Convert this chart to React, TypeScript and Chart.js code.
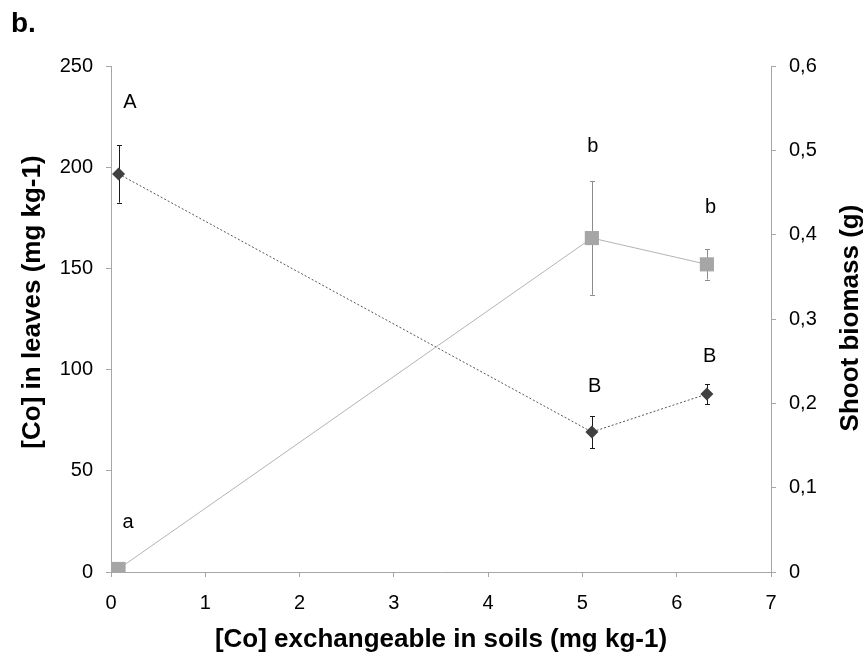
import React, { useEffect, useRef } from "react";
import { Chart, registerables } from "chart.js";

Chart.register(...registerables);

// Exchangeable Co in soil (mg kg-1) for the three treatments
const soilCo = [0.08, 5.1, 6.32];

// [Co] in leaves (mg kg-1), left axis
const leafCo = [1.5, 165, 152];
const leafCoErr = [0, 28, 7.5];
const leafLetters = ["a", "b", "b"];
const leafLetterX = [0.18, 5.11, 6.36];
const leafLetterY = [24.7, 210, 180];

// Shoot biomass (g), right axis
const biomass = [0.472, 0.166, 0.211];
const biomassErr = [0.034, 0.019, 0.012];
const biomassLetters = ["A", "B", "B"];
const biomassLetterX = [0.2, 5.13, 6.35];
const biomassLetterY = [0.557, 0.22, 0.255];

const xTitle = "[Co] exchangeable in soils (mg kg-1)";
const yLeftTitle = "[Co] in leaves (mg kg-1)";
const yRightTitle = "Shoot biomass (g)";
const panelTag = "b.";

const FONT = "Liberation Sans, Arial, Helvetica, sans-serif";
const AXIS_GRAY = "#a6a6a6";
const SQUARE_GRAY = "#a6a6a6";
const DIAMOND_DARK = "#404040";

const errorBarsPlugin = {
  id: "errorBars",
  beforeDatasetsDraw(chart: any) {
    const { ctx, scales } = chart;
    const xs = scales.x;
    const drawBars = (vals: number[], errs: number[], ys: any, color: string, cap: number) => {
      ctx.save();
      ctx.strokeStyle = color;
      ctx.lineWidth = 1;
      vals.forEach((v, i) => {
        const e = errs[i];
        if (!e) return;
        const px = Math.round(xs.getPixelForValue(soilCo[i])) + 0.5;
        const top = ys.getPixelForValue(v + e);
        const bot = ys.getPixelForValue(v - e);
        ctx.beginPath();
        ctx.moveTo(px, top);
        ctx.lineTo(px, bot);
        ctx.moveTo(px - cap, Math.round(top) + 0.5);
        ctx.lineTo(px + cap, Math.round(top) + 0.5);
        ctx.moveTo(px - cap, Math.round(bot) + 0.5);
        ctx.lineTo(px + cap, Math.round(bot) + 0.5);
        ctx.stroke();
      });
      ctx.restore();
    };
    drawBars(leafCo, leafCoErr, scales.y, "#8c8c8c", 2.5);
    drawBars(biomass, biomassErr, scales.y1, "#1a1a1a", 2.5);
  },
};

const textPlugin = {
  id: "chartText",
  afterDraw(chart: any) {
    const { ctx, scales, chartArea } = chart;
    const xs = scales.x;
    ctx.save();
    ctx.fillStyle = "#000";

    // significance letters
    ctx.font = `20px ${FONT}`;
    ctx.textAlign = "center";
    ctx.textBaseline = "middle";
    leafLetters.forEach((t, i) => {
      ctx.fillText(t, xs.getPixelForValue(leafLetterX[i]), scales.y.getPixelForValue(leafLetterY[i]));
    });
    biomassLetters.forEach((t, i) => {
      ctx.fillText(t, xs.getPixelForValue(biomassLetterX[i]), scales.y1.getPixelForValue(biomassLetterY[i]));
    });

    // axis titles
    ctx.font = `bold 26px ${FONT}`;
    ctx.textBaseline = "alphabetic";
    ctx.textAlign = "center";
    ctx.fillText(xTitle, (chartArea.left + chartArea.right) / 2, 647);

    const midY = (chartArea.top + chartArea.bottom) / 2;
    ctx.save();
    ctx.translate(39.5, midY - 17);
    ctx.rotate(-Math.PI / 2);
    ctx.fillText(yLeftTitle, 0, 0);
    ctx.restore();

    ctx.save();
    ctx.translate(857.5, midY - 1);
    ctx.rotate(-Math.PI / 2);
    ctx.fillText(yRightTitle, 0, 0);
    ctx.restore();

    // panel tag
    ctx.font = `bold 28px ${FONT}`;
    ctx.textAlign = "left";
    ctx.fillText(panelTag, 11, 32);
    ctx.restore();
  },
};

const tickFont = { family: FONT, size: 20 };

export default function App() {
  const canvasRef = useRef<HTMLCanvasElement | null>(null);

  useEffect(() => {
    const canvas = canvasRef.current;
    if (!canvas) return;
    const chart = new Chart(canvas, {
      type: "line",
      data: {
        datasets: [
          {
            label: yLeftTitle,
            data: soilCo.map((x, i) => ({ x, y: leafCo[i] })),
            yAxisID: "y",
            borderColor: "#b3b3b3",
            borderWidth: 1,
            pointStyle: "rect",
            pointRadius: 10,
            pointHoverRadius: 10,
            pointBackgroundColor: SQUARE_GRAY,
            pointBorderColor: SQUARE_GRAY,
            pointBorderWidth: 0,
            tension: 0,
          },
          {
            label: yRightTitle,
            data: soilCo.map((x, i) => ({ x, y: biomass[i] })),
            yAxisID: "y1",
            borderColor: "#555555",
            borderDash: [2, 2],
            borderWidth: 1,
            pointStyle: "rectRot",
            pointRadius: 6.5,
            pointHoverRadius: 6.5,
            pointBackgroundColor: DIAMOND_DARK,
            pointBorderColor: DIAMOND_DARK,
            pointBorderWidth: 0,
            tension: 0,
          },
        ],
      },
      options: {
        responsive: false,
        animation: false,
        events: [],
        layout: { padding: { top: 66, left: 0, right: 0, bottom: 0 } },
        plugins: {
          legend: { display: false },
          tooltip: { enabled: false },
          title: { display: false },
        },
        scales: {
          x: {
            type: "linear",
            min: 0,
            max: 7,
            ticks: { stepSize: 1, font: tickFont, color: "#000", padding: 14, maxRotation: 0 },
            grid: { drawOnChartArea: false, drawTicks: true, tickLength: 5, color: AXIS_GRAY },
            border: { color: AXIS_GRAY, width: 1 },
            afterFit: (s: any) => {
              s.height = 89;
            },
          },
          y: {
            type: "linear",
            position: "left",
            min: 0,
            max: 250,
            ticks: { stepSize: 50, font: tickFont, color: "#000", padding: 13 },
            grid: { drawOnChartArea: false, drawTicks: true, tickLength: 5, color: AXIS_GRAY },
            border: { color: AXIS_GRAY, width: 1 },
            afterFit: (s: any) => {
              s.width = 111;
            },
          },
          y1: {
            type: "linear",
            position: "right",
            min: 0,
            max: 0.6,
            ticks: {
              stepSize: 0.1,
              font: tickFont,
              color: "#000",
              padding: 13,
              callback: (v: any) => (Number(v) === 0 ? "0" : Number(v).toFixed(1).replace(".", ",")),
            },
            grid: { drawOnChartArea: false, drawTicks: true, tickLength: 5, color: AXIS_GRAY },
            border: { color: AXIS_GRAY, width: 1 },
            afterFit: (s: any) => {
              s.width = 97;
            },
          },
        },
      },
      plugins: [errorBarsPlugin, textPlugin],
    });
    return () => chart.destroy();
  }, []);

  return (
    <div style={{ position: "fixed", left: 0, top: 0, width: 868, height: 661, background: "#fff" }}>
      <canvas ref={canvasRef} width={868} height={661} />
    </div>
  );
}
